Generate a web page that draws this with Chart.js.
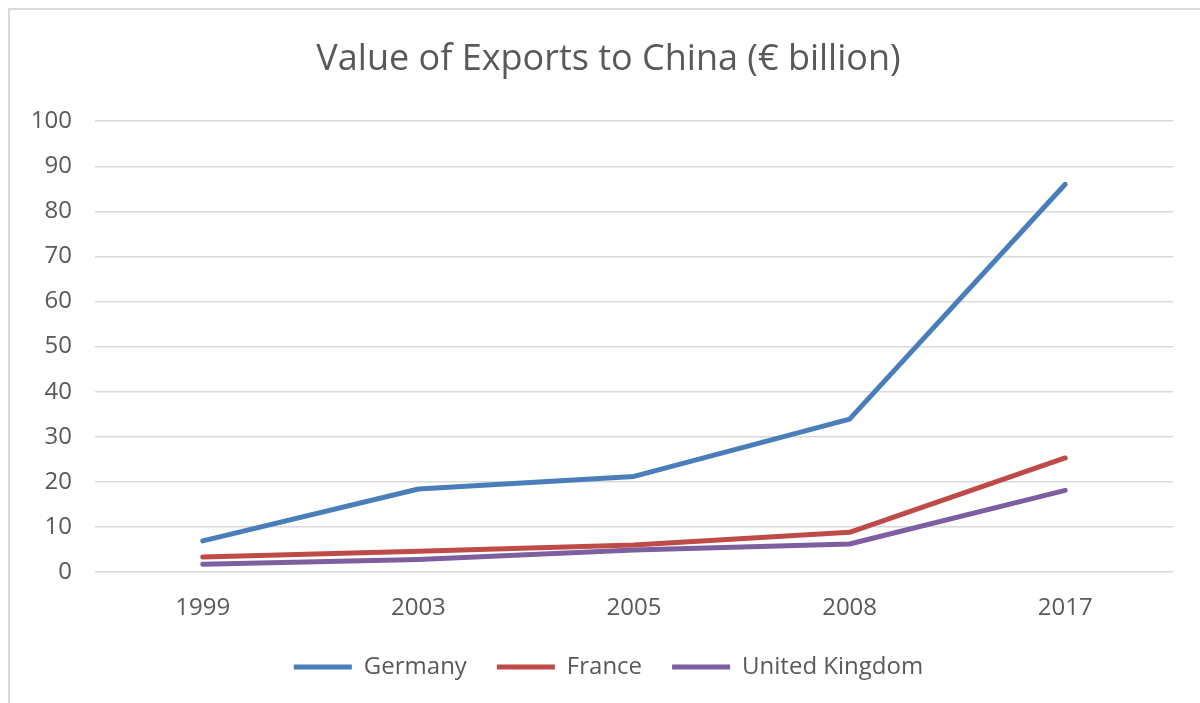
<!DOCTYPE html>
<html lang="en">
<head>
  <meta charset="UTF-8">
  <title>Value of Exports to China</title>
  <style>
    html, body { margin: 0; padding: 0; background: #fff; }
    #wrap { width: 1200px; height: 703px; }
  </style>
</head>
<body>
  <script src="https://cdn.jsdelivr.net/npm/chart.js"></script>
  <div id="wrap"><canvas id="exportsChart" width="1200" height="703"></canvas></div>
  <script>
    // datos
    const years = ['1999', '2003', '2005', '2008', '2017'];
    const germany = [6.9, 18.4, 21.2, 33.9, 86.0];
    const france = [3.3, 4.6, 6.0, 8.8, 25.3];
    const unitedKingdom = [1.7, 2.8, 4.9, 6.2, 18.1];

    const fontFam = '"Open Sans", sans-serif';
    const grey = '#595959';

    // marco gris arriba e izquierda
    const framePlugin = {
      id: 'frame',
      beforeDraw(chart) {
        const c = chart.ctx;
        c.save();
        c.fillStyle = '#fff';
        c.fillRect(0, 0, chart.width, chart.height);
        c.strokeStyle = '#d9d9d9';
        c.lineWidth = 2;
        c.beginPath();
        c.moveTo(9, chart.height);
        c.lineTo(9, 9);
        c.lineTo(chart.width, 9);
        c.stroke();
        c.restore();
      }
    };

    // titulo y leyenda un poco a la derecha, como en la imagen
    const nudgePlugin = {
      id: 'nudge',
      afterLayout(chart) {
        const dx = 22;
        [chart.titleBlock, chart.legend].forEach(b => {
          if (b) { b.left += dx; b.right += dx; }
        });
      }
    };

    const ctx = document.getElementById('exportsChart').getContext('2d');
    const exportsChart = new Chart(ctx, {
      type: 'line',
      data: {
        labels: years,
        datasets: [
          { label: 'Germany', data: germany, borderColor: '#4a7ebb', backgroundColor: '#4a7ebb' },
          { label: 'France', data: france, borderColor: '#be4b48', backgroundColor: '#be4b48' },
          { label: 'United Kingdom', data: unitedKingdom, borderColor: '#7d5fa0', backgroundColor: '#7d5fa0' }
        ].map(d => Object.assign(d, {
          borderWidth: 5,
          borderCapStyle: 'round',
          borderJoinStyle: 'round',
          pointRadius: 0,
          pointHoverRadius: 0,
          tension: 0,
          fill: false
        }))
      },
      options: {
        responsive: false,
        animation: false,
        layout: { padding: { left: 0, right: 27, top: 0, bottom: 14 } },
        plugins: {
          tooltip: { enabled: false },
          title: {
            display: true,
            text: 'Value of Exports to China (€ billion)',
            color: grey,
            font: { family: fontFam, size: 36, weight: 'normal' },
            padding: { top: 38, bottom: 40 }
          },
          legend: {
            position: 'bottom',
            labels: {
              color: grey,
              font: { family: fontFam, size: 24 },
              usePointStyle: true,
              pointStyle: 'line',
              pointStyleWidth: 58,
              padding: 30
            }
          }
        },
        scales: {
          x: {
            offset: true,
            afterFit(scale) { scale.height = 53; },
            grid: { display: false, drawTicks: false },
            border: { display: false },
            ticks: {
              color: grey,
              font: { family: fontFam, size: 24 },
              padding: 22,
              maxRotation: 0
            }
          },
          y: {
            min: 0,
            max: 100,
            afterFit(scale) { scale.width = 95; },
            grid: { color: '#d9d9d9', lineWidth: 1.5, drawTicks: false },
            border: { display: false },
            ticks: {
              stepSize: 10,
              color: grey,
              font: { family: fontFam, size: 24 },
              padding: 23
            }
          }
        }
      },
      plugins: [framePlugin, nudgePlugin]
    });
  </script>
</body>
</html>
